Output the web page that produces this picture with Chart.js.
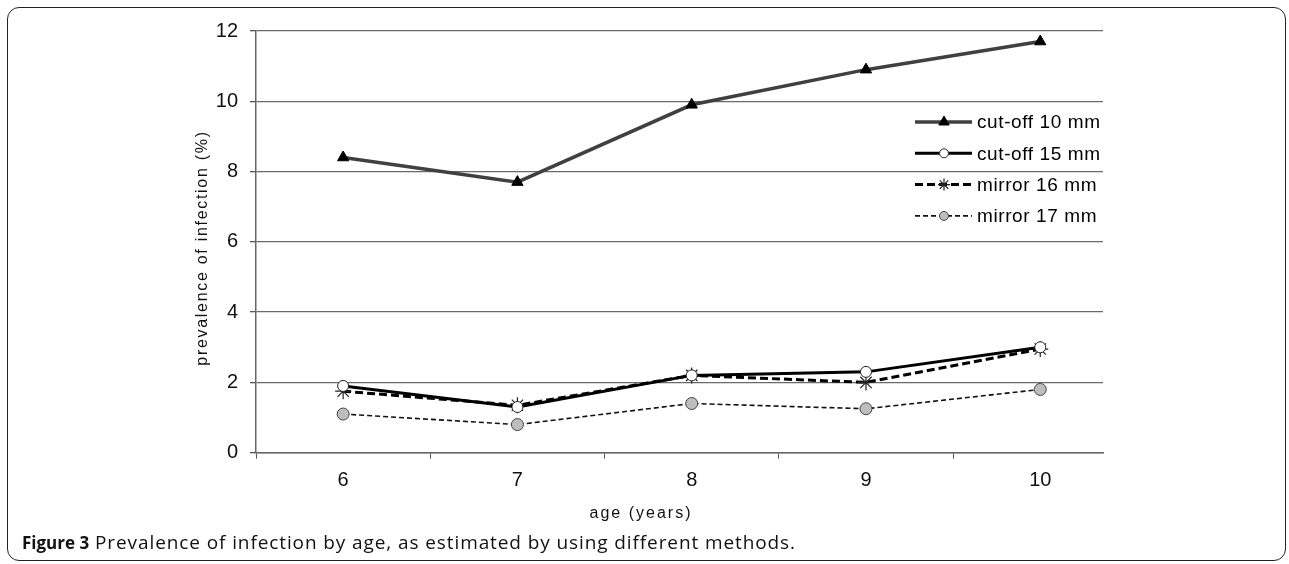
<!DOCTYPE html>
<html>
<head>
<meta charset="utf-8">
<script src="https://cdn.jsdelivr.net/npm/chart.js@4.4.1/dist/chart.umd.min.js"></script>
<style>
  html, body { margin: 0; padding: 0; background: #fff; }
  #wrap { position: relative; width: 1289px; height: 564px; overflow: hidden; }
  #frame { position: absolute; left: 7px; top: 7px; width: 1279px; height: 554px;
           border: 1.5px solid #222; border-radius: 12px; box-sizing: border-box; }
  canvas { position: absolute; left: 0; top: 0; }
  #caption { position: absolute; left: 22px; top: 529px; font-family: "Open Sans", sans-serif;
             font-size: 17px; color: #111; white-space: nowrap; }
  #caption b { font-weight: 700; }
  #caption span { font-size: 19px; letter-spacing: 0.9px; }
</style>
</head>
<body>
<div id="wrap">
  <div id="frame"></div>
  <canvas id="c" width="1289" height="564"></canvas>
  <div id="caption"><b>Figure 3</b><span> Prevalence of infection by age, as estimated by using different methods.</span></div>
</div>
<script>
// ---- data ----
const ages = [6, 7, 8, 9, 10];
const cutoff10 = [8.4, 7.7, 9.9, 10.9, 11.7];
const cutoff15 = [1.9, 1.3, 2.2, 2.3, 3.0];
const mirror16 = [1.75, 1.35, 2.2, 2.0, 2.95];
const mirror17 = [1.1, 0.8, 1.4, 1.25, 1.8];
const seriesNames = ['cut-off 10 mm', 'cut-off 15 mm', 'mirror 16 mm', 'mirror 17 mm'];
const yTicks = [0, 2, 4, 6, 8, 10, 12];
const xTitle = 'age (years)';
const yTitle = 'prevalence of infection (%)';

const pts = (vals) => ages.map((a, i) => ({ x: a, y: vals[i] }));

const datasets = [
  { label: seriesNames[0], data: pts(cutoff10), borderColor: '#404040', borderWidth: 3.5,
    pointStyle: 'triangle', pointRadius: 6.5, pointBackgroundColor: '#000', pointBorderColor: '#000', pointBorderWidth: 1 },
  { label: seriesNames[1], data: pts(cutoff15), borderColor: '#000', borderWidth: 3,
    pointStyle: 'circle', pointRadius: 5.5, pointBackgroundColor: '#fff', pointBorderColor: '#222', pointBorderWidth: 1 },
  { label: seriesNames[2], data: pts(mirror16), borderColor: '#000', borderWidth: 3, borderDash: [8, 4],
    pointStyle: 'star', pointRadius: 8, pointBackgroundColor: '#000', pointBorderColor: '#222', pointBorderWidth: 1.2 },
  { label: seriesNames[3], data: pts(mirror17), borderColor: '#111', borderWidth: 1.6, borderDash: [5, 3],
    pointStyle: 'circle', pointRadius: 6, pointBackgroundColor: '#bdbdbd', pointBorderColor: '#444', pointBorderWidth: 1 }
];
datasets.forEach(d => { d.fill = false; d.tension = 0; d.pointHoverRadius = d.pointRadius; });

const FONT = '"Liberation Sans", Arial, sans-serif';

const legendPlugin = {
  id: 'customLegend',
  afterDatasetsDraw(chart) {
    const ctx = chart.ctx;
    const x0 = 915, x1 = 972, xm = 944, tx = 977, y0 = 122, dy = 31.3;
    chart.data.datasets.forEach((d, i) => {
      const y = y0 + i * dy;
      ctx.save();
      ctx.strokeStyle = d.borderColor;
      ctx.lineWidth = d.borderWidth;
      ctx.setLineDash(d.borderDash || []);
      ctx.beginPath(); ctx.moveTo(x0, y); ctx.lineTo(x1, y); ctx.stroke();
      ctx.setLineDash([]);
      ctx.fillStyle = d.pointBackgroundColor;
      ctx.strokeStyle = d.pointBorderColor;
      ctx.lineWidth = d.pointBorderWidth;
      Chart.helpers.drawPoint(ctx, { pointStyle: d.pointStyle, radius: d.pointStyle === 'triangle' ? 6 : (d.pointStyle === 'star' ? 6 : 4.5), rotation: 0, borderWidth: d.pointBorderWidth }, xm, y);
      ctx.fillStyle = '#000';
      ctx.font = '19px ' + FONT;
      ctx.letterSpacing = '0.6px';
      ctx.textBaseline = 'middle';
      ctx.textAlign = 'left';
      ctx.fillText(d.label, tx, y + 1);
      ctx.restore();
    });
    // axis titles
    ctx.save();
    ctx.fillStyle = '#111';
    ctx.font = '16px ' + FONT;
    ctx.letterSpacing = '2px';
    ctx.textAlign = 'center';
    ctx.textBaseline = 'middle';
    ctx.fillText(xTitle, 641, 514);
    ctx.restore();
    ctx.save();
    ctx.fillStyle = '#111';
    ctx.font = '16px ' + FONT;
    ctx.letterSpacing = '1.7px';
    ctx.textAlign = 'center';
    ctx.textBaseline = 'middle';
    ctx.translate(203, 248);
    ctx.rotate(-Math.PI / 2);
    ctx.fillText(yTitle, 0, 0);
    ctx.restore();
  }
};

new Chart(document.getElementById('c'), {
  type: 'line',
  data: { datasets },
  plugins: [legendPlugin],
  options: {
    responsive: false,
    animation: false,
    devicePixelRatio: 1,
    layout: { padding: { left: 195, top: 31, right: 186, bottom: 41.3 } },
    plugins: { legend: { display: false }, tooltip: { enabled: false } },
    scales: {
      x: {
        type: 'linear', min: 5.5, max: 10.36,
        afterFit(s) { s.height = 70; },
        afterBuildTicks(s) {
          const t = [];
          ages.forEach(a => { t.push({ value: a - 0.5 }); t.push({ value: a }); });
          s.ticks = t;
        },
        grid: { drawOnChartArea: false, tickLength: 6, tickWidth: 1,
                tickColor: (c) => (c.tick && Number.isInteger(c.tick.value)) ? 'rgba(0,0,0,0)' : '#555' },
        border: { color: '#666', width: 1.5 },
        ticks: { autoSkip: false, maxRotation: 0, padding: 10, color: '#111',
                 font: { family: FONT, size: 20 },
                 callback: (v) => Number.isInteger(v) ? String(v) : '' }
      },
      y: {
        min: 0, max: 12,
        afterFit(s) { s.width = 61; },
        afterBuildTicks(s) { s.ticks = yTicks.map(v => ({ value: v })); },
        grid: { color: '#6a6a6a', lineWidth: 1.3, tickLength: 6, tickColor: '#555' },
        border: { color: '#666', width: 1.5 },
        ticks: { padding: 12, color: '#111', font: { family: FONT, size: 20 } }
      }
    }
  }
});
</script>
</body>
</html>
